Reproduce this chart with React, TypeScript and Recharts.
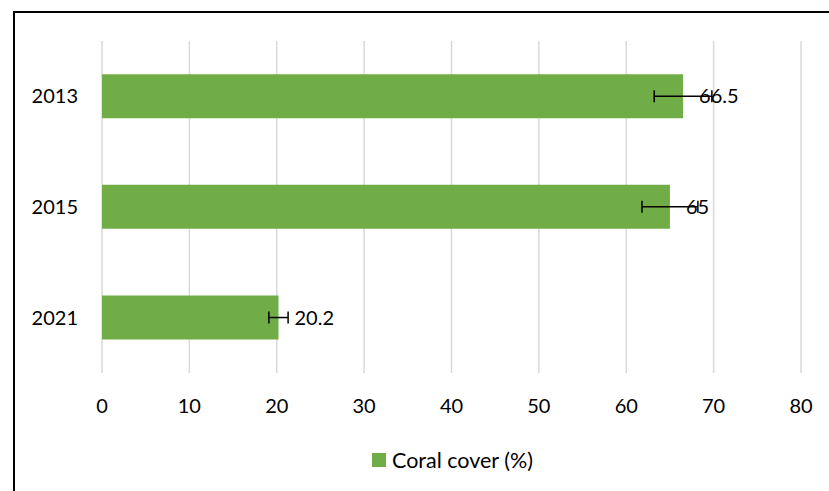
import React from 'react';
import { BarChart, Bar, XAxis, YAxis, CartesianGrid, ErrorBar, LabelList, Legend } from 'recharts';

const years = ['2013', '2015', '2021'];
const coralCover = [66.5, 65, 20.2];
const coralError = [3.3, 3.2, 1.1];
const xTicks = [0, 10, 20, 30, 40, 50, 60, 70, 80];

const data = years.map((y, i) => ({ year: y, cover: coralCover[i], err: coralError[i] }));

const FONT = 'Lato, "Open Sans", sans-serif';
const GREEN = '#70AD47';

const LegendContent = () => (
  <div style={{ display: 'flex', alignItems: 'center', paddingLeft: 372, fontFamily: FONT, fontSize: 21.5, color: '#000', height: 24 }}>
    <span style={{ display: 'inline-block', width: 14, height: 14, background: GREEN, marginRight: 6 }} />
    <span style={{ lineHeight: '24px' }}>Coral cover (%)</span>
  </div>
);

export default function App() {
  return (
    <div style={{ position: 'absolute', left: 0, top: 0, width: 829, height: 491, overflow: 'hidden', background: '#fff' }}>
      <div style={{ position: 'absolute', left: 13, top: 11, width: 900, height: 600, borderLeft: '2px solid #000', borderTop: '2px solid #000' }} />
      <div style={{ position: 'absolute', left: 0, top: 0 }}>
        <BarChart
          width={829}
          height={491}
          data={data}
          layout="vertical"
          margin={{ top: 41, right: 28, left: 0, bottom: 8 }}
          barCategoryGap="30%"
        >
          <CartesianGrid horizontal={false} vertical={true} stroke="#d9d9d9" strokeWidth={1.5} />
          <XAxis
            type="number"
            domain={[0, 80]}
            ticks={xTicks}
            axisLine={false}
            tickLine={false}
            tickSize={0}
            tickMargin={26}
            height={60}
            interval={0}
            tick={{ fill: '#000', fontSize: 20, fontFamily: FONT }}
          />
          <YAxis
            type="category"
            dataKey="year"
            width={102}
            axisLine={false}
            tickLine={false}
            tickSize={0}
            tickMargin={24}
            tick={{ fill: '#000', fontSize: 20, fontFamily: FONT }}
          />
          <Legend
            verticalAlign="bottom"
            height={50}
            content={<LegendContent />}
            wrapperStyle={{ left: 0, top: 448, width: 829 }}
          />
          <Bar dataKey="cover" name="Coral cover (%)" fill={GREEN} isAnimationActive={false}>
            <ErrorBar dataKey="err" direction="x" width={6} stroke="#000" strokeWidth={1.5} isAnimationActive={false} />
            <LabelList dataKey="cover" position="right" offset={16} fill="#000" fontSize={20} fontFamily={FONT} />
          </Bar>
        </BarChart>
      </div>
    </div>
  );
}
